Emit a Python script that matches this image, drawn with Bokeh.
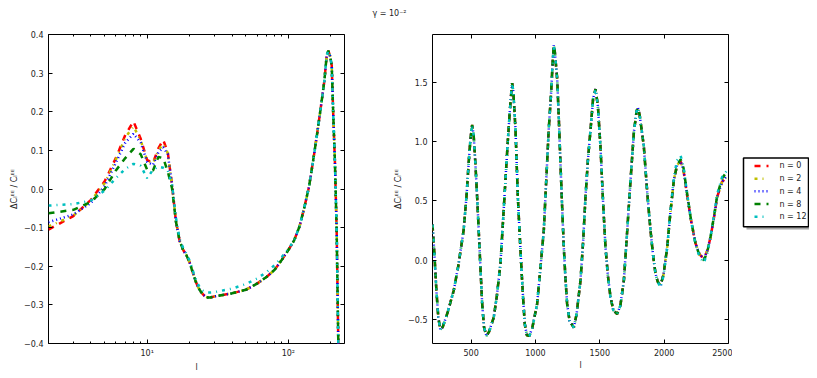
from bokeh.plotting import figure
from bokeh.models import (FixedTicker, LogAxis, LinearAxis, Label, CustomJSTickFormatter)
from bokeh.core.properties import value
from bokeh.layouts import column, row
from bokeh.embed import file_html
from bokeh.resources import INLINE

# ---------------- data ----------------
series_labels = ["n = 0", "n = 2", "n = 4", "n = 8", "n = 12"]
series_colors = ["#ff0000", "#bfbf00", "#0000ff", "#008000", "#00bfbf"]
series_dashes = ["6 6", "3 5 1 5", "1 3", "6 6", "3 5 1 5"]

title_text = "\u03b3 = 10\u207b\u00b2"
y_label = "\u0394C\u2097\u1d31\u1d31 / C\u2097\u1d31\u1d31"
x_label = "l"

# left panel (log multipole axis)
l_l = [2, 3, 4, 5, 6, 7, 8, 9, 10, 11,
       12, 13, 14, 15, 16, 17, 18, 19, 20, 21,
       22, 23, 24, 25, 26, 27, 28, 30, 35, 40,
       50, 60, 70, 80, 90, 100, 110, 120, 130, 140,
       150, 160, 170, 180, 187, 192, 197, 203, 208, 214,
       220, 227]
l_n0 = [-0.105, -0.07, -0.028, 0.02, 0.08, 0.14, 0.175, 0.13, 0.075, 0.068,
        0.105, 0.127, 0.095, 0.01, -0.085, -0.135, -0.158, -0.172, -0.19, -0.215,
        -0.238, -0.255, -0.266, -0.274, -0.279, -0.281, -0.281, -0.278, -0.274, -0.27,
        -0.261, -0.245, -0.228, -0.209, -0.183, -0.158, -0.133, -0.097, -0.047, 0.005,
        0.074, 0.143, 0.212, 0.28, 0.346, 0.358, 0.346, 0.32, 0.195, 0.066,
        -0.107, -0.45]
l_n2_low = [-0.097, -0.069, -0.03, 0.015, 0.076, 0.133, 0.162, 0.126, 0.073, 0.066,
            0.1, 0.117, 0.093, 0.01]
l_n4_low = [-0.086, -0.066, -0.036, 0.008, 0.068, 0.12, 0.143, 0.12, 0.07, 0.062,
            0.095, 0.108, 0.09, 0.012]
l_n8_low = [-0.063, -0.054, -0.033, 0.0, 0.048, 0.08, 0.104, 0.09, 0.05, 0.048,
            0.083, 0.08, 0.045, 0.002]
l_n12_low = [-0.043, -0.039, -0.03, -0.004, 0.028, 0.052, 0.065, 0.06, 0.028, 0.05,
             0.058, 0.055, 0.048, 0.012,
             -0.075, -0.13, -0.153, -0.168, -0.186, -0.21, -0.232, -0.248, -0.258, -0.264,
             -0.267, -0.268, -0.268, -0.267, -0.262, -0.258, -0.246, -0.232, -0.215, -0.197,
             -0.176, -0.155]
l_n2 = l_n2_low + l_n0[14:]
l_n4 = l_n4_low + l_n0[14:]
l_n8 = l_n8_low + l_n0[14:]
l_n12 = l_n12_low + l_n0[36:]

# right panel (linear multipole axis)
r_l = [200, 215, 230, 245, 261, 280, 320, 365, 400, 442,
       465, 481, 495, 508, 520, 533, 546, 559, 572, 586,
       600, 619, 640, 676, 700, 728, 748, 767, 785, 800,
       812, 819, 828, 845, 863, 876, 889, 903, 917, 933,
       953, 975, 1013, 1040, 1065, 1085, 1103, 1120, 1135, 1142,
       1150, 1169, 1182, 1194, 1207, 1220, 1233, 1246, 1265, 1298,
       1320, 1350, 1370, 1389, 1408, 1428, 1448, 1467, 1485, 1505,
       1525, 1544, 1563, 1583, 1605, 1635, 1660, 1687, 1710, 1739,
       1765, 1785, 1796, 1810, 1842, 1870, 1894, 1913, 1933, 1950,
       1972, 1995, 2024, 2050, 2076, 2100, 2128, 2150, 2180, 2210,
       2244, 2275, 2309, 2335, 2361, 2390, 2413, 2450, 2490]
r_n0 = [0.30, 0.05, -0.25, -0.48, -0.585, -0.56, -0.43, -0.254, -0.05, 0.254,
        0.55, 0.82, 1.02, 1.14, 1.05, 0.82, 0.55, 0.254, -0.05, -0.367,
        -0.56, -0.636, -0.60, -0.48, -0.30, -0.028, 0.33, 0.678, 1.0, 1.243,
        1.41, 1.49, 1.42, 1.10, 0.536, 0.25, -0.028, -0.30, -0.536, -0.63,
        -0.636, -0.57, -0.367, -0.05, 0.254, 0.70, 1.10, 1.38, 1.69, 1.81,
        1.76, 1.525, 1.18, 0.82, 0.46, 0.113, -0.15, -0.367, -0.51, -0.565,
        -0.45, -0.17, 0.15, 0.536, 0.85, 1.10, 1.36, 1.44, 1.30, 0.96,
        0.50, 0.113, -0.13, -0.31, -0.42, -0.452, -0.38, -0.17, 0.20, 0.678,
        1.08, 1.25, 1.285, 1.22, 0.96, 0.55, 0.254, 0.05, -0.113, -0.18,
        -0.212, -0.12, 0.113, 0.42, 0.678, 0.80, 0.833, 0.76, 0.536, 0.33,
        0.141, 0.05, 0.014, 0.08, 0.197, 0.38, 0.536, 0.66, 0.70]
r_n2 = r_n0[:-1] + [0.71]
r_n4 = r_n0[:-1] + [0.72]
r_n8 = r_n0[:-13] + [0.85, 0.78, 0.55, 0.33, 0.14, 0.04, 0.0, 0.07, 0.2, 0.39,
                     0.55, 0.69, 0.75]
r_n12 = r_n0[:-19] + [-0.23, -0.13, 0.11, 0.43, 0.70, 0.84, 0.88, 0.79, 0.55, 0.33,
                      0.13, 0.03, -0.02, 0.06, 0.2, 0.4, 0.56, 0.70, 0.76]

left_series = [l_n0, l_n2, l_n4, l_n8, l_n12]
right_series = [r_n0, r_n2, r_n4, r_n8, r_n12]

left_xticks = [10, 100]
left_xtick_labels = {10: "10\u00b9", 100: "10\u00b2"}
left_xminor = [2, 3, 4, 5, 6, 7, 8, 9, 20, 30, 40, 50, 60, 70, 80, 90, 200]
left_yticks = [-0.4, -0.3, -0.2, -0.1, 0.0, 0.1, 0.2, 0.3, 0.4]
right_xticks = [500, 1000, 1500, 2000, 2500]
right_yticks = [-0.5, 0.0, 0.5, 1.0, 1.5]

# ---------------- styling helpers ----------------
FONT = "DejaVu Sans"
TXT = "#222222"
yfmt_code = "return (tick < -1e-9 ? '\\u2212' : '') + Math.abs(tick).toFixed(1);"
blank_code = "return '';"


def style_axis(ax, show_labels, minor):
    ax.axis_line_color = None
    ax.major_tick_line_color = "black"
    ax.major_tick_in = 4
    ax.major_tick_out = 0
    if minor:
        ax.minor_tick_line_color = "black"
        ax.minor_tick_in = 2
        ax.minor_tick_out = 0
    else:
        ax.minor_tick_line_color = None
    ax.major_label_text_font = FONT
    ax.major_label_text_color = TXT
    ax.major_label_text_font_size = "8px"
    if show_labels:
        ax.major_label_standoff = 5
    else:
        ax.formatter = CustomJSTickFormatter(code=blank_code)
        ax.major_label_standoff = 0
    ax.axis_label_text_font = FONT
    ax.axis_label_text_font_size = "8px"
    ax.axis_label_text_font_style = "normal"
    ax.axis_label_text_color = TXT
    ax.axis_label_standoff = 2


def base_fig(**kw):
    p = figure(output_backend="svg", toolbar_location=None, **kw)
    p.grid.visible = False
    p.outline_line_color = "black"
    p.outline_line_width = 1
    p.outline_line_alpha = 1
    p.background_fill_color = "white"
    p.border_fill_color = "white"
    return p


# ---------------- title strip ----------------
p0 = figure(width=809, height=22, x_range=(0, 809), y_range=(0, 22),
            x_axis_location=None, y_axis_location=None, min_border=0,
            output_backend="svg", toolbar_location=None)
p0.grid.visible = False
p0.outline_line_color = None
p0.add_layout(Label(x=389, y=9, text=title_text, text_align="center",
                    text_baseline="alphabetic", text_font=FONT,
                    text_font_size="8px", text_color=TXT))

# ---------------- left panel ----------------
p1 = base_fig(width=386, height=356, x_axis_type="log", x_range=(2, 250),
              y_range=(-0.4, 0.4), min_border_left=48, min_border_right=42,
              min_border_top=12, min_border_bottom=35)
xt1 = FixedTicker(ticks=left_xticks, minor_ticks=left_xminor)
yt1 = FixedTicker(ticks=left_yticks)
p1.xaxis[0].ticker = xt1
p1.xaxis[0].major_label_overrides = left_xtick_labels
p1.xaxis[0].axis_label = x_label
p1.yaxis[0].ticker = yt1
p1.yaxis[0].formatter = CustomJSTickFormatter(code=yfmt_code)
p1.yaxis[0].axis_label = y_label
style_axis(p1.xaxis[0], True, True)
style_axis(p1.yaxis[0], True, False)
top1 = LogAxis(ticker=xt1)
right1 = LinearAxis(ticker=yt1)
style_axis(top1, False, True)
style_axis(right1, False, False)
p1.add_layout(top1, "above")
p1.add_layout(right1, "right")

for ys, c, d in zip(left_series, series_colors, series_dashes):
    p1.line(l_l, ys, line_color=c, line_width=2.5, line_dash=d)

# ---------------- right panel ----------------
p2 = base_fig(width=346, height=356, x_range=(200, 2500), y_range=(-0.7, 1.9),
              min_border_left=46, min_border_right=4,
              min_border_top=12, min_border_bottom=35)
xt2 = FixedTicker(ticks=right_xticks)
yt2 = FixedTicker(ticks=right_yticks)
p2.xaxis[0].ticker = xt2
p2.xaxis[0].axis_label = x_label
p2.yaxis[0].ticker = yt2
p2.yaxis[0].formatter = CustomJSTickFormatter(code=yfmt_code)
p2.yaxis[0].axis_label = y_label
style_axis(p2.xaxis[0], True, False)
style_axis(p2.yaxis[0], True, False)
top2 = LinearAxis(ticker=xt2)
right2 = LinearAxis(ticker=yt2)
style_axis(top2, False, False)
style_axis(right2, False, False)
p2.add_layout(top2, "above")
p2.add_layout(right2, "right")

for ys, c, d in zip(right_series, series_colors, series_dashes):
    p2.line(r_l, ys, line_color=c, line_width=2.5, line_dash=d)

# ---------------- legend strip (approximately pixel-unit canvas) ----------------
LW, LH = 77, 328
p3 = figure(width=LW, height=356, x_range=(0, LW), y_range=(0, LH),
            x_axis_location=None, y_axis_location=None, min_border=0,
            output_backend="svg", toolbar_location=None)
p3.grid.visible = False
p3.outline_line_color = None
p3.background_fill_color = "white"
p3.border_fill_color = "white"

box_l, box_r, box_b, box_t = 11, 76, 124, 197
p3.quad(left=[box_l + 3], right=[box_r + 3], bottom=[box_b - 3], top=[box_t - 3],
        fill_color="#7f7f7f", fill_alpha=0.7, line_color=None)
p3.quad(left=[box_l], right=[box_r], bottom=[box_b], top=[box_t],
        fill_color="white", line_color="black", line_width=1.5)
row_y = [box_t - 8.5 - 13.5 * i for i in range(len(series_labels))]
for yy, c, d in zip(row_y, series_colors, series_dashes):
    p3.line([box_l + 11, box_l + 25], [yy, yy], line_color=c, line_width=2.5,
            line_dash=d)
p3.text(x=[box_l + 36] * len(series_labels), y=row_y, text=series_labels,
        text_font=value(FONT), text_font_size=value("8px"), text_color=TXT,
        text_baseline="middle", text_align="left")

layout = column(p0, row(p1, p2, p3))
open("out.html", "w").write(file_html(layout, INLINE))
